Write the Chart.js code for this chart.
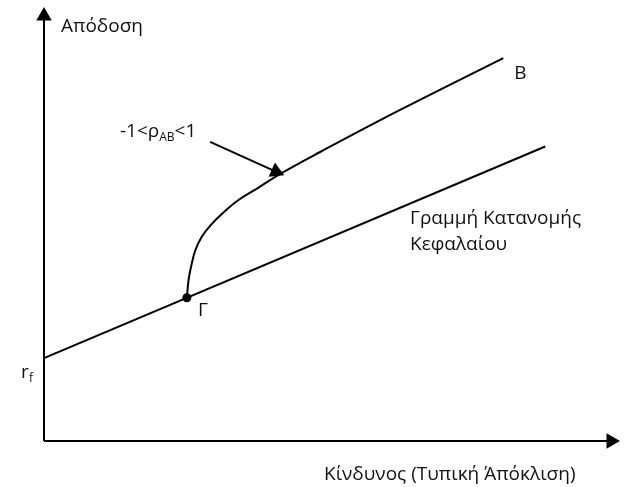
<!DOCTYPE html>
<html lang="el">
<head>
  <meta charset="UTF-8">
  <title>Γραμμή Κατανομής Κεφαλαίου</title>
  <script src="https://cdn.jsdelivr.net/npm/chart.js"></script>
  <style>
    body { margin: 0; background: #fff; }
  </style>
</head>
<body>

<canvas id="cmlChart" width="627" height="487"></canvas>

<script>
  // risk (x) and return (y) in arbitrary units
  const cmlRisk = [0, 8.84];
  const cmlReturn = [1.95, 6.93];

  const frontierRisk = [2.52, 2.55, 2.60, 2.67, 2.78, 2.94, 3.15, 3.43, 3.77, 4.16, 4.87, 6.28, 8.10];
  const frontierReturn = [3.37, 3.79, 4.14, 4.49, 4.80, 5.08, 5.36, 5.67, 5.95, 6.28, 6.80, 7.79, 9.01];

  const tangentRisk = [2.52];
  const tangentReturn = [3.37];

  const pointerRisk = [2.93, 4.09];
  const pointerReturn = [7.04, 6.34];

  const axisMax = 10;

  function toPoints(xs, ys) {
    return xs.map((x, i) => ({ x: x, y: ys[i] }));
  }

  const FONT = '"Open Sans", "DejaVu Sans", sans-serif';

  // text labels drawn on top of the chart area
  const labelsPlugin = {
    id: 'labels',
    afterDatasetsDraw(chart) {
      const ctx = chart.ctx;
      const sx = chart.scales.x;
      const sy = chart.scales.y;
      ctx.save();
      ctx.fillStyle = '#111';
      ctx.textBaseline = 'alphabetic';
      ctx.font = '19px ' + FONT;

      ctx.textAlign = 'left';
      ctx.fillText('Απόδοση', sx.left + 17, 32);
      ctx.fillText('B', sx.getPixelForValue(8.10) + 11, 79);
      ctx.fillText('Γραμμή Κατανομής', 410, 224);
      ctx.fillText('Κεφαλαίου', 410, 250);
      ctx.fillText('Γ', sx.getPixelForValue(tangentRisk[0]) + 11, sy.getPixelForValue(tangentReturn[0]) + 18);
      ctx.fillText('Κίνδυνος (Τυπική Άπόκλιση)', 324, 480);

      // r_f with subscript
      let x = 21, y = sy.getPixelForValue(cmlReturn[0]) + 20;
      ctx.fillText('r', x, y);
      ctx.font = '12px ' + FONT;
      ctx.fillText('f', x + ctx.measureText('r').width + 3, y + 4);

      // -1<ρAB<1
      ctx.font = '19px ' + FONT;
      x = 120; y = 137;
      ctx.fillText('-1<ρ', x, y);
      x += ctx.measureText('-1<ρ').width;
      ctx.font = '12px ' + FONT;
      ctx.fillText('AB', x, y + 4);
      x += ctx.measureText('AB').width;
      ctx.font = '19px ' + FONT;
      ctx.fillText('<1', x, y);

      ctx.restore();
    }
  };

  const lineBase = {
    type: 'line',
    borderColor: '#000',
    backgroundColor: '#000',
    borderWidth: 2,
    fill: false,
    clip: false,
    pointStyle: 'triangle',
    pointBorderWidth: 0,
    pointHoverRadius: 0
  };

  const ctx = document.getElementById('cmlChart').getContext('2d');

  new Chart(ctx, {
    type: 'line',
    data: {
      datasets: [
        Object.assign({}, lineBase, {
          label: 'y axis',
          data: toPoints([0, 0], [0, axisMax]),
          pointRadius: [0, 9],
          pointRotation: 0
        }),
        Object.assign({}, lineBase, {
          label: 'x axis',
          data: toPoints([0, axisMax], [0, 0]),
          pointRadius: [0, 9],
          pointRotation: 90
        }),
        Object.assign({}, lineBase, {
          label: 'Γραμμή Κατανομής Κεφαλαίου',
          data: toPoints(cmlRisk, cmlReturn),
          pointRadius: 0
        }),
        Object.assign({}, lineBase, {
          label: 'Αποτελεσματικό σύνορο',
          data: toPoints(frontierRisk, frontierReturn),
          pointRadius: 0,
          tension: 0.4
        }),
        Object.assign({}, lineBase, {
          label: 'pointer',
          data: toPoints(pointerRisk, pointerReturn),
          pointRadius: [0, 9],
          pointRotation: 114
        }),
        Object.assign({}, lineBase, {
          label: 'Γ',
          data: toPoints(tangentRisk, tangentReturn),
          showLine: false,
          pointStyle: 'circle',
          pointRadius: 4.5
        })
      ]
    },
    options: {
      responsive: false,
      animation: false,
      events: [],
      layout: {
        padding: { left: 44, right: 16, top: 16, bottom: 46 }
      },
      scales: {
        x: { type: 'linear', min: 0, max: axisMax, display: false },
        y: { type: 'linear', min: 0, max: axisMax, display: false }
      },
      plugins: {
        legend: { display: false },
        tooltip: { enabled: false }
      }
    },
    plugins: [labelsPlugin]
  });
</script>

</body>
</html>
